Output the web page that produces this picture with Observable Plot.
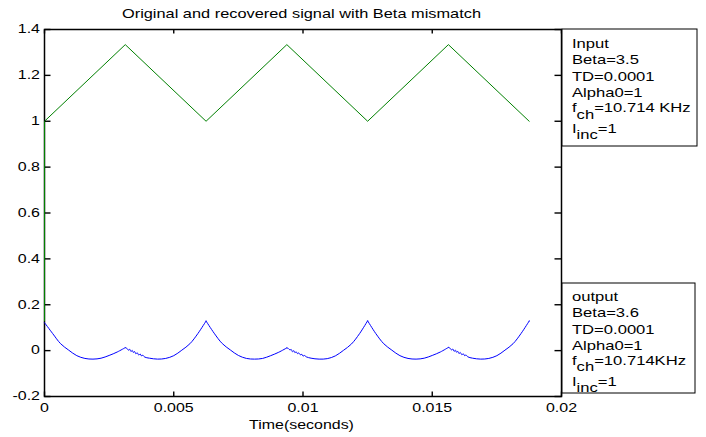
<!DOCTYPE html>
<html>
<head>
<meta charset="utf-8">
<script src="https://cdn.jsdelivr.net/npm/d3@7"></script>
<script src="https://cdn.jsdelivr.net/npm/@observablehq/plot@0.6"></script>
<style>
  html, body { margin: 0; padding: 0; background: #fff; }
  svg { display: block; }
</style>
</head>
<body>
<div id="chart"></div>
<script>
// ---------- data ----------
const titleText = "Original and recovered signal with Beta mismatch";
const xLabelText = "Time(seconds)";

const xTicks = [0, 0.005, 0.01, 0.015, 0.02];
const xTickLabels = ["0", "0.005", "0.01", "0.015", "0.02"];
const yTicks = [-0.2, 0, 0.2, 0.4, 0.6, 0.8, 1, 1.2, 1.4];
const yTickLabels = ["-0.2", "0", "0.2", "0.4", "0.6", "0.8", "1", "1.2", "1.4"];

// Input (green triangle wave)
const inputTime  = [0, 0, 0.003125, 0.00625, 0.009375, 0.0125, 0.015625, 0.01875];
const inputValue = [0.13, 1, 1.334, 1, 1.334, 1, 1.334, 1];

// Output (blue recovered signal)
const outputTime = [
  0, 0.0003125, 0.000625, 0.0009375, 0.00125, 0.0015625, 0.001875, 0.0021875, 0.0025, 0.0028125, 0.003125,
  0.003185, 0.003245, 0.003295, 0.003345, 0.003395, 0.0034375, 0.003485, 0.003535, 0.003585, 0.003645, 0.003705,
  0.00375, 0.003805, 0.003875, 0.0040625, 0.004375, 0.0046875, 0.005, 0.0053125, 0.005625, 0.0059375, 0.00625,
  0.0065625, 0.006875, 0.0071875, 0.0075, 0.0078125, 0.008125, 0.0084375, 0.00875, 0.0090625, 0.009375,
  0.009435, 0.009495, 0.009545, 0.009595, 0.009645, 0.0096875, 0.009735, 0.009785, 0.009835, 0.009895, 0.009955,
  0.01, 0.010055, 0.010125, 0.0103125, 0.010625, 0.0109375, 0.01125, 0.0115625, 0.011875, 0.0121875, 0.0125,
  0.0128125, 0.013125, 0.0134375, 0.01375, 0.0140625, 0.014375, 0.0146875, 0.015, 0.0153125, 0.015625,
  0.015685, 0.015745, 0.015795, 0.015845, 0.015895, 0.0159375, 0.015985, 0.016035, 0.016085, 0.016145, 0.016205,
  0.01625, 0.016305, 0.016375, 0.0165625, 0.016875, 0.0171875, 0.0175, 0.0178125, 0.018125, 0.0184375, 0.01875
];
const outputValue = [
  0.122, 0.075, 0.030, 0.002, -0.022, -0.034, -0.037, -0.033, -0.021, -0.006, 0.013,
  0.010, 0.002, 0.006, -0.004, 0.001, -0.008, -0.004, -0.014, -0.009, -0.019, -0.015,
  -0.023, -0.020, -0.028, -0.033, -0.037, -0.034, -0.022, 0.002, 0.030, 0.075, 0.129,
  0.076, 0.031, 0.003, -0.021, -0.034, -0.037, -0.034, -0.022, -0.007, 0.012,
  0.009, 0.003, 0.005, -0.005, 0.000, -0.009, -0.005, -0.013, -0.010, -0.018, -0.016,
  -0.024, -0.021, -0.027, -0.033, -0.037, -0.035, -0.023, 0.001, 0.029, 0.074, 0.130,
  0.075, 0.030, 0.002, -0.022, -0.034, -0.037, -0.033, -0.021, -0.006, 0.014,
  0.011, 0.003, 0.007, -0.003, 0.002, -0.007, -0.003, -0.013, -0.008, -0.018, -0.014,
  -0.022, -0.019, -0.027, -0.033, -0.037, -0.034, -0.022, 0.002, 0.030, 0.075, 0.129
];

// Annotation boxes: each line is a list of [text, isSubscript]
const inputBoxLines = [
  [["Input", false]],
  [["Beta=3.5", false]],
  [["TD=0.0001", false]],
  [["Alpha0=1", false]],
  [["f", false], ["ch", true], ["=10.714 KHz", false]],
  [["I", false], ["inc", true], ["=1", false]]
];
const outputBoxLines = [
  [["output", false]],
  [["Beta=3.6", false]],
  [["TD=0.0001", false]],
  [["Alpha0=1", false]],
  [["f", false], ["ch", true], ["=10.714KHz", false]],
  [["I", false], ["inc", true], ["=1", false]]
];

// ---------- chart ----------
const inputData = inputTime.map((t, i) => ({t, v: inputValue[i]}));

const halfPeriod = 0.003125;
const outputData = [];
outputTime.forEach((t, i) => {
  const k = Math.floor(t / halfPeriod + 1e-6);
  const onBoundary = Math.abs(t / halfPeriod - Math.round(t / halfPeriod)) < 1e-6;
  outputData.push({t, v: outputValue[i], seg: k});
  if (onBoundary && k > 0) outputData.push({t, v: outputValue[i], seg: k - 1});
});
outputData.sort((a, b) => a.seg - b.seg || a.t - b.t);

const W = 706, H = 437;
const mL = 44, mR = 145, mT = 29, mB = 41;
const FONT = "'Liberation Sans', Arial, sans-serif";
const STRETCH = 1.33;
const [x0, x1] = [xTicks[0], xTicks[xTicks.length - 1]];
const [y0, y1] = [yTicks[0], yTicks[yTicks.length - 1]];

// inward tick symbols drawn by Plot.dot
const tickRight = {draw(c) { c.moveTo(0, 0); c.lineTo(6, 0); }};
const tickLeft  = {draw(c) { c.moveTo(0, 0); c.lineTo(-7, 0); }};
const tickUp    = {draw(c) { c.moveTo(0, 0); c.lineTo(0, -5); }};
const tickDown  = {draw(c) { c.moveTo(0, 0); c.lineTo(0, 4); }};
const yTickRows = yTicks.map(v => ({v}));
const xTickRows = xTicks.map(v => ({v}));
const tickStyle = {stroke: "#000", strokeWidth: 1.4, fill: "none"};

const chart = Plot.plot({
  width: W, height: H,
  marginLeft: mL, marginRight: mR, marginTop: mT, marginBottom: mB,
  style: {fontFamily: FONT, fontSize: "12px", color: "#000", background: "#fff"},
  x: {domain: [x0, x1]},
  y: {domain: [y0, y1]},
  marks: [
    Plot.frame({stroke: "#000", strokeWidth: 1.5}),
    Plot.dot(yTickRows, {x: () => x0, y: "v", symbol: tickRight, ...tickStyle}),
    Plot.dot(yTickRows, {x: () => x1, y: "v", symbol: tickLeft, ...tickStyle}),
    Plot.dot(xTickRows, {x: "v", y: () => y0, symbol: tickUp, ...tickStyle}),
    Plot.dot(xTickRows, {x: "v", y: () => y1, symbol: tickDown, ...tickStyle}),
    Plot.line(inputData, {x: "t", y: "v", stroke: "#008000", strokeWidth: 1}),
    Plot.line(outputData, {x: "t", y: "v", z: "seg", curve: "catmull-rom", stroke: "#0000ff", strokeWidth: 1}),
    Plot.axisX({anchor: "bottom", ticks: xTicks, tickSize: 0, tickPadding: 7,
      tickFormat: d => xTickLabels[xTicks.indexOf(d)], label: null, fill: "#000"}),
    Plot.axisY({anchor: "left", ticks: yTicks, tickSize: 0, tickPadding: 4.5,
      tickFormat: d => yTickLabels[yTicks.indexOf(d)], label: null, fill: "#000"})
  ]
});

document.getElementById("chart").appendChild(chart);
const svg = d3.select(chart);

// title
svg.append("text")
  .attr("x", (mL + (W - mR)) / 2 - 1).attr("y", 18.3)
  .attr("text-anchor", "middle")
  .style("font-family", FONT).style("font-size", "12.3px").attr("fill", "#000")
  .text(titleText);

// x label
svg.append("text")
  .attr("x", (mL + (W - mR)) / 2 - 1).attr("y", 429)
  .attr("text-anchor", "middle")
  .style("font-family", FONT).style("font-size", "12px").attr("fill", "#000")
  .text(xLabelText);

// annotation boxes
function drawBox(x, y, w, h, lines, baselines) {
  const g = svg.append("g");
  g.append("rect").attr("x", x).attr("y", y).attr("width", w).attr("height", h)
    .attr("fill", "#fff").attr("stroke", "#000").attr("stroke-width", 1);
  lines.forEach((segs, i) => {
    const t = g.append("text")
      .attr("x", x + 10).attr("y", y + baselines[i])
      .attr("text-anchor", "start")
      .style("font-family", FONT).style("font-size", "12.5px").attr("fill", "#000");
    let shifted = false;
    segs.forEach(([txt, sub]) => {
      const ts = t.append("tspan").text(txt);
      if (sub && !shifted) { ts.attr("dy", 6.5); shifted = true; }
      else if (!sub && shifted) { ts.attr("dy", -6.5); shifted = false; }
    });
  });
}
drawBox(562, 29, 135, 117, inputBoxLines, [19.3, 35.5, 52.5, 68.5, 83.3, 103.7]);
drawBox(562, 283, 133, 110, outputBoxLines, [18, 34.3, 51, 67, 82, 102.7]);

// horizontal stretch of all text (the reference is horizontally stretched)
chart.querySelectorAll("text").forEach(t => {
  const ox = parseFloat(t.getAttribute("x")) || 0;
  const tr = t.getAttribute("transform") || "";
  t.setAttribute("transform", `${tr} translate(${ox},0) scale(${STRETCH},1) translate(${-ox},0)`);
});
</script>
</body>
</html>
